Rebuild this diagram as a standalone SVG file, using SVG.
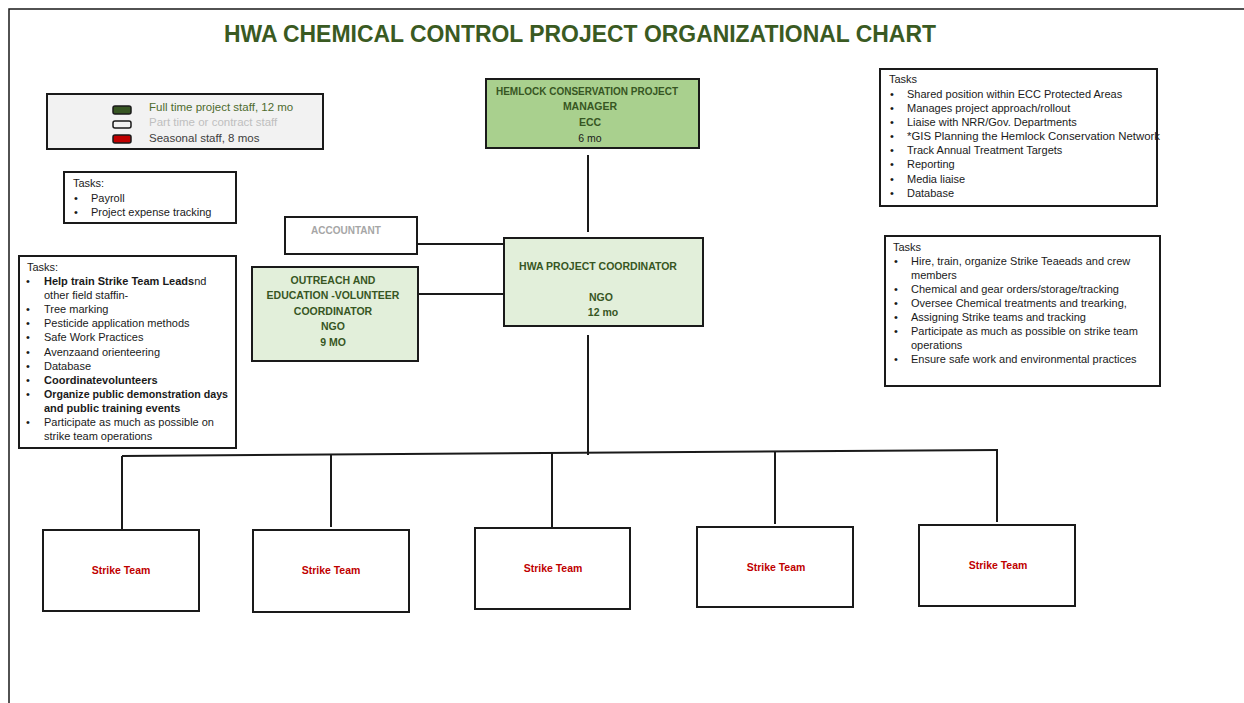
<svg xmlns="http://www.w3.org/2000/svg" width="1244" height="703" viewBox="0 0 1244 703">
<style>
.box{stroke:#1a1a1a;stroke-width:2}
.t{font-family:"Liberation Sans",Arial,sans-serif;font-size:11px;fill:#1a1a1a}
.b{font-weight:bold}
.node{font-family:"Liberation Sans",Arial,sans-serif;font-size:10.5px;font-weight:bold;fill:#375623;text-anchor:middle}
.st{font-family:"Liberation Sans",Arial,sans-serif;font-size:10.5px;font-weight:bold;fill:#c00000;text-anchor:middle}
.ln{stroke:#1a1a1a;stroke-width:2;fill:none}
</style>
<rect width="1244" height="703" fill="#fff"/>
<path d="M1244 9 H9 V703" fill="none" stroke="#1a1a1a" stroke-width="1.5"/>
<text x="580" y="42" text-anchor="middle" font-family="'Liberation Sans',Arial,sans-serif" font-size="23" font-weight="bold" fill="#3a5a22" textLength="712" lengthAdjust="spacingAndGlyphs">HWA CHEMICAL CONTROL PROJECT ORGANIZATIONAL CHART</text>

<g id="legend">
<rect x="47" y="94" width="276" height="55" fill="#f2f2f2" class="box"/>
<rect x="113" y="106" width="18" height="8" rx="2" fill="#375623" stroke="#1a1a1a" stroke-width="1.5"/>
<rect x="113" y="121" width="18" height="7" rx="2" fill="#f2f2f2" stroke="#1a1a1a" stroke-width="1.5"/>
<rect x="113" y="135" width="18" height="8" rx="2" fill="#c00000" stroke="#1a1a1a" stroke-width="1.5"/>
<text x="149" y="111" class="t" style="fill:#4e6b2e;font-size:11.5px">Full time project staff, 12  mo</text>
<text x="149" y="126" class="t" style="fill:#bfbfbf;font-size:11.5px">Part time or contract staff</text>
<text x="149" y="142" class="t" style="fill:#404040;font-size:11.5px">Seasonal staff, 8 mos</text>
</g>

<g id="tasks-accountant">
<rect x="64" y="172" width="172" height="51" fill="#fff" class="box"/>
<text x="73" y="187" class="t">Tasks:</text>
<text x="74" y="202" class="t">•</text><text x="91" y="202" class="t">Payroll</text>
<text x="74" y="216" class="t">•</text><text x="91" y="216" class="t">Project expense tracking</text>
</g>

<g id="tasks-outreach">
<rect x="19" y="256" width="217" height="192" fill="#fff" class="box"/>
<text x="27" y="271" class="t">Tasks:</text>
<text x="26" y="285" class="t">•</text><text x="44" y="285" class="t"><tspan class="b">Help train Strike Team  Leads</tspan>nd</text>
<text x="44" y="299" class="t">other field staffin-</text>
<text x="26" y="313" class="t">•</text><text x="44" y="313" class="t">Tree marking</text>
<text x="26" y="327" class="t">•</text><text x="44" y="327" class="t">Pesticide application methods</text>
<text x="26" y="341" class="t">•</text><text x="44" y="341" class="t">Safe Work Practices</text>
<text x="26" y="356" class="t">•</text><text x="44" y="356" class="t">Avenzaand orienteering</text>
<text x="26" y="370" class="t">•</text><text x="44" y="370" class="t">Database</text>
<text x="26" y="384" class="t">•</text><text x="44" y="384" class="t b">Coordinatevolunteers</text>
<text x="26" y="398" class="t">•</text><text x="44" y="398" class="t b" textLength="184" lengthAdjust="spacingAndGlyphs">Organize public demonstration days</text>
<text x="44" y="412" class="t b">and public training events</text>
<text x="26" y="426" class="t">•</text><text x="44" y="426" class="t">Participate as much as possible on</text>
<text x="44" y="440" class="t">strike team operations</text>
</g>

<g id="accountant">
<rect x="285" y="217" width="132" height="37" fill="#fff" class="box"/>
<text x="346" y="234" class="node" style="fill:#a6a6a6;font-size:10px">ACCOUNTANT</text>
</g>

<g id="outreach">
<rect x="252" y="267" width="166" height="94" fill="#e2efda" class="box"/>
<text x="333" y="284" class="node">OUTREACH AND</text>
<text x="333" y="299" class="node">EDUCATION  -VOLUNTEER</text>
<text x="333" y="315" class="node">COORDINATOR</text>
<text x="333" y="330" class="node">NGO</text>
<text x="333" y="346" class="node">9 MO</text>
</g>

<g id="manager">
<rect x="486" y="79" width="213" height="69" fill="#a9d08e" class="box"/>
<text x="587" y="95" class="node" textLength="182" lengthAdjust="spacingAndGlyphs">HEMLOCK CONSERVATION PROJECT</text>
<text x="590" y="110" class="node">MANAGER</text>
<text x="590" y="126" class="node">ECC</text>
<text x="590" y="142" class="node" style="font-weight:normal;fill:#1a1a1a">6 mo</text>
</g>

<g id="coordinator">
<rect x="504" y="238" width="199" height="88" fill="#e2efda" class="box"/>
<text x="598" y="270" class="node">HWA PROJECT COORDINATOR</text>
<text x="601" y="301" class="node">NGO</text>
<text x="603" y="316" class="node">12 mo</text>
</g>

<g id="tasks-manager">
<rect x="880" y="69" width="277" height="137" fill="#fff" class="box"/>
<text x="889" y="83" class="t">Tasks</text>
<text x="890" y="98" class="t">•</text><text x="907" y="98" class="t">Shared position within ECC Protected Areas</text>
<text x="890" y="112" class="t">•</text><text x="907" y="112" class="t">Manages project approach/rollout</text>
<text x="890" y="126" class="t">•</text><text x="907" y="126" class="t">Liaise with NRR/Gov. Departments</text>
<text x="890" y="140" class="t">•</text><text x="907" y="140" class="t" textLength="253" lengthAdjust="spacingAndGlyphs">*GIS Planning the Hemlock Conservation Network</text>
<text x="890" y="154" class="t">•</text><text x="907" y="154" class="t">Track Annual Treatment Targets</text>
<text x="890" y="168" class="t">•</text><text x="907" y="168" class="t">Reporting</text>
<text x="890" y="183" class="t">•</text><text x="907" y="183" class="t">Media liaise</text>
<text x="890" y="197" class="t">•</text><text x="907" y="197" class="t">Database</text>
</g>

<g id="tasks-coordinator">
<rect x="885" y="236" width="275" height="150" fill="#fff" class="box"/>
<text x="893" y="251" class="t">Tasks</text>
<text x="894" y="265" class="t">•</text><text x="911" y="265" class="t">Hire, train, organize Strike Teaeads and crew</text>
<text x="911" y="279" class="t">members</text>
<text x="894" y="293" class="t">•</text><text x="911" y="293" class="t">Chemical and gear orders/storage/tracking</text>
<text x="894" y="307" class="t">•</text><text x="911" y="307" class="t">Oversee Chemical treatments and trearking,</text>
<text x="894" y="321" class="t">•</text><text x="911" y="321" class="t">Assigning Strike teams and tracking</text>
<text x="894" y="335" class="t">•</text><text x="911" y="335" class="t">Participate as much as possible on strike team</text>
<text x="911" y="349" class="t">operations</text>
<text x="894" y="363" class="t">•</text><text x="911" y="363" class="t">Ensure safe work and environmental practices</text>
</g>

<g id="connectors">
<path class="ln" d="M588 155 V232"/>
<path class="ln" d="M417 244 H504"/>
<path class="ln" d="M418 294 H504"/>
<path class="ln" d="M588 335 V455"/>
<path class="ln" d="M122 456 L998 450"/>
<path class="ln" d="M122 456 V529"/>
<path class="ln" d="M331 455 V527"/>
<path class="ln" d="M552 453 V528"/>
<path class="ln" d="M775 452 V524"/>
<path class="ln" d="M997 450 V522"/>
</g>

<g id="strike1"><rect x="43" y="530" width="156" height="81" fill="#fff" class="box"/><text x="121" y="574" class="st">Strike Team</text></g>
<g id="strike2"><rect x="253" y="530" width="156" height="82" fill="#fff" class="box"/><text x="331" y="574" class="st">Strike Team</text></g>
<g id="strike3"><rect x="475" y="528" width="155" height="81" fill="#fff" class="box"/><text x="553" y="572" class="st">Strike Team</text></g>
<g id="strike4"><rect x="697" y="527" width="156" height="80" fill="#fff" class="box"/><text x="776" y="571" class="st">Strike Team</text></g>
<g id="strike5"><rect x="919" y="525" width="156" height="81" fill="#fff" class="box"/><text x="998" y="569" class="st">Strike Team</text></g>
</svg>
